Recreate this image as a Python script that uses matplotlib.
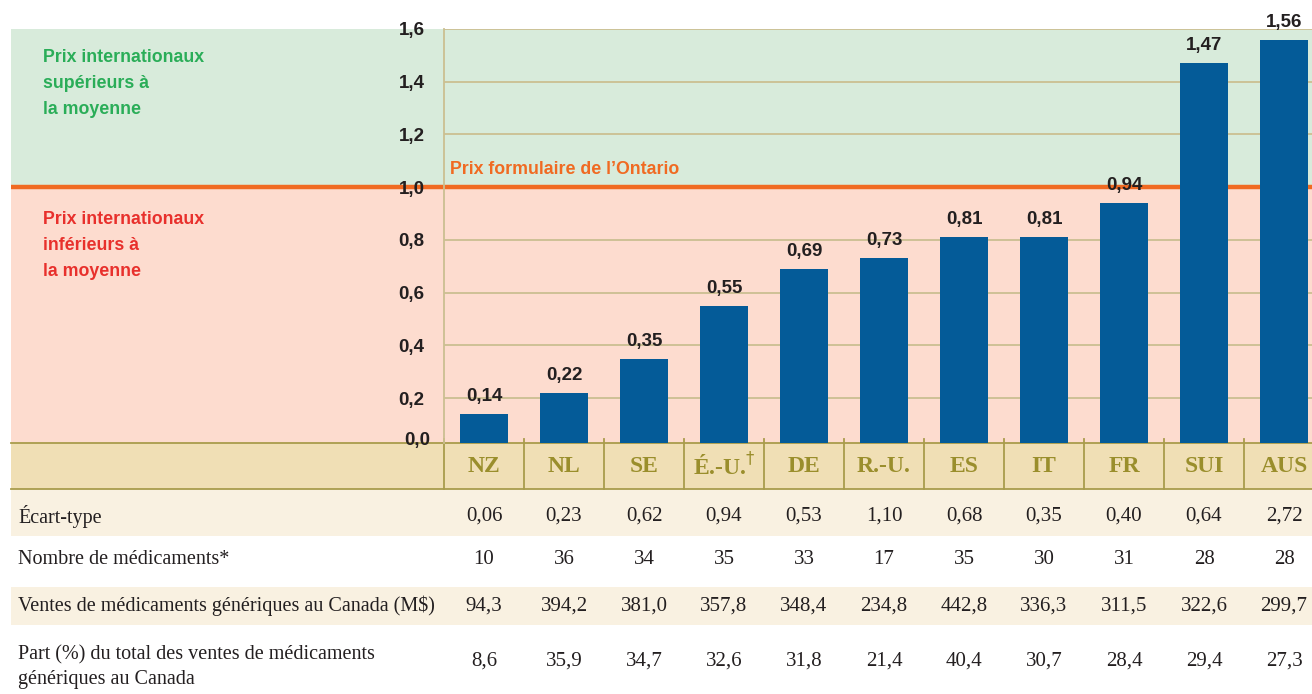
import matplotlib.pyplot as plt
from matplotlib.transforms import blended_transform_factory
from matplotlib.lines import Line2D
from matplotlib.patches import Rectangle

# data
pays = ['NZ', 'NL', 'SE', 'É.-U.$^{\\dagger}$', 'DE', 'R.-U.', 'ES', 'IT', 'FR', 'SUI', 'AUS']
ratio = [0.14, 0.22, 0.35, 0.55, 0.69, 0.73, 0.81, 0.81, 0.94, 1.47, 1.56]
ecart_type = ['0,06', '0,23', '0,62', '0,94', '0,53', '1,10', '0,68', '0,35', '0,40', '0,64', '2,72']
nb_medicaments = ['10', '36', '34', '35', '33', '17', '35', '30', '31', '28', '28']
ventes = ['94,3', '394,2', '381,0', '357,8', '348,4', '234,8', '442,8', '336,3', '311,5', '322,6', '299,7']
part = ['8,6', '35,9', '34,7', '32,6', '31,8', '21,4', '40,4', '30,7', '28,4', '29,4', '27,3']
yticks = [0.2, 0.4, 0.6, 0.8, 1.0, 1.2, 1.4, 1.6]

W, H = 1312, 694
BLUE = '#045b98'
GREEN_BG = '#d8ebdb'
PINK_BG = '#fddccf'
ORANGE = '#f06a22'
HEAD_BG = '#f0dfb5'
CREAM = '#f9f1e1'
OLIVE = '#9a8e2c'
OLIVE_LINE = '#a99c4c'
GRID = '#cbbf91'
DARK = '#231f20'
SANS = ['Liberation Sans Narrow', 'Liberation Sans', 'DejaVu Sans']
SERIF = ['Liberation Serif', 'DejaVu Serif']
YMIN = 0.03  # the zero line sits just under the header row


def fx(px):
    return px / W


def fy(py):
    return 1 - py / H


fig = plt.figure(figsize=(W / 100, H / 100), dpi=100)

# background bands (green above 1.0, pink below)
bg = fig.add_axes([fx(11), fy(443), fx(W - 11), (443 - 29) / H], zorder=0)
bg.set_xlim(0, 1)
bg.set_ylim(YMIN, 1.6)
bg.axhspan(1.0, 1.6, color=GREEN_BG, lw=0)
bg.axhspan(YMIN, 1.0, color=PINK_BG, lw=0)
bg.axhline(1.0, color=ORANGE, lw=3.2)
bg.axis('off')

# main bar axes (column width 80 px, starting at x=444)
ax = fig.add_axes([fx(444), fy(443), 880 / W, (443 - 29) / H], zorder=2)
ax.patch.set_alpha(0)
x = list(range(len(pays)))
ax.bar(x, ratio, width=0.6, color=BLUE, zorder=3)
ax.set_xlim(-0.5, 10.5)
ax.set_ylim(YMIN, 1.6)
ax.set_yticks(yticks)
ax.set_yticklabels([f'{v:.1f}'.replace('.', ',') for v in yticks],
                   family=SANS, fontweight='bold', fontsize=13.5, color=DARK)
ax.tick_params(axis='y', length=0, pad=14)
ax.set_xticks([])
for v in yticks:
    if v != 1.0:
        ax.axhline(v, color=GRID, lw=1.3, zorder=1)
for s in ['top', 'right', 'bottom']:
    ax.spines[s].set_visible(False)
ax.spines['left'].set_color(GRID)
ax.spines['left'].set_linewidth(1.3)
fig.text(fx(430), fy(440), '0,0', ha='right', va='center', family=SANS,
         fontweight='bold', fontsize=13.5, color=DARK, zorder=6)

for xi, v in zip(x, ratio):
    ax.annotate(f'{v:.2f}'.replace('.', ','), (xi, v), xytext=(0, 6.5),
                textcoords='offset points', ha='center', va='bottom',
                family=SANS, fontweight='bold', fontsize=13.5, color=DARK)

# side texts
fig.text(fx(43), fy(49), 'Prix internationaux\nsupérieurs à\nla moyenne', ha='left', va='top',
         family=SANS, fontweight='bold', fontsize=12.8, color='#2aad58', linespacing=1.7)
fig.text(fx(43), fy(211), 'Prix internationaux\ninférieurs à\nla moyenne', ha='left', va='top',
         family=SANS, fontweight='bold', fontsize=12.8, color='#e8302c', linespacing=1.7)
fig.text(fx(450), fy(170), 'Prix formulaire de l\u2019Ontario', ha='left', va='center',
         family=SANS, fontweight='bold', fontsize=12.8, color=ORANGE, zorder=5)

# table below the chart
tr = blended_transform_factory(ax.transData, fig.transFigure)
rows = [(443, 489, HEAD_BG), (489, 536, CREAM), (536, 587, 'white'),
        (587, 625, CREAM), (625, 694, 'white')]
for top, bot, c in rows:
    fig.patches.append(Rectangle((fx(11), fy(bot)), fx(W - 11), (bot - top) / H,
                                 transform=fig.transFigure, color=c, lw=0, zorder=0))
for yy in (443, 489):
    fig.add_artist(Line2D([fx(11), 1], [fy(yy), fy(yy)], transform=fig.transFigure,
                          color=OLIVE_LINE, lw=1.3))
for i in range(len(pays) + 1):
    fig.add_artist(Line2D([i - 0.5, i - 0.5], [fy(439), fy(489)], transform=tr,
                          color=OLIVE_LINE, lw=1.3))

for xi, lab in zip(x, pays):
    fig.text(xi, fy(467), lab, transform=tr, ha='center', va='center',
             family=SERIF, fontweight='bold', fontsize=17, color=OLIVE)

row_text = [(516, 'Écart-type', ecart_type),
            (559, 'Nombre de médicaments*', nb_medicaments),
            (606, 'Ventes de médicaments génériques au Canada (M$)', ventes)]
for yy, label, vals in row_text:
    fig.text(fx(18), fy(yy), label, ha='left', va='center', family=SERIF,
             fontsize=14.5, color=DARK)
    for xi, v in zip(x, vals):
        fig.text(xi, fy(yy), v, transform=tr, ha='center', va='center',
                 family=SERIF, fontsize=15, color=DARK)
fig.text(fx(18), fy(667), 'Part (%) du total des ventes de médicaments\ngénériques au Canada',
         ha='left', va='center', family=SERIF, fontsize=14.5, color=DARK, linespacing=1.4)
for xi, v in zip(x, part):
    fig.text(xi, fy(661), v, transform=tr, ha='center', va='center',
             family=SERIF, fontsize=15, color=DARK)

fig.savefig('out.png', dpi=100)
